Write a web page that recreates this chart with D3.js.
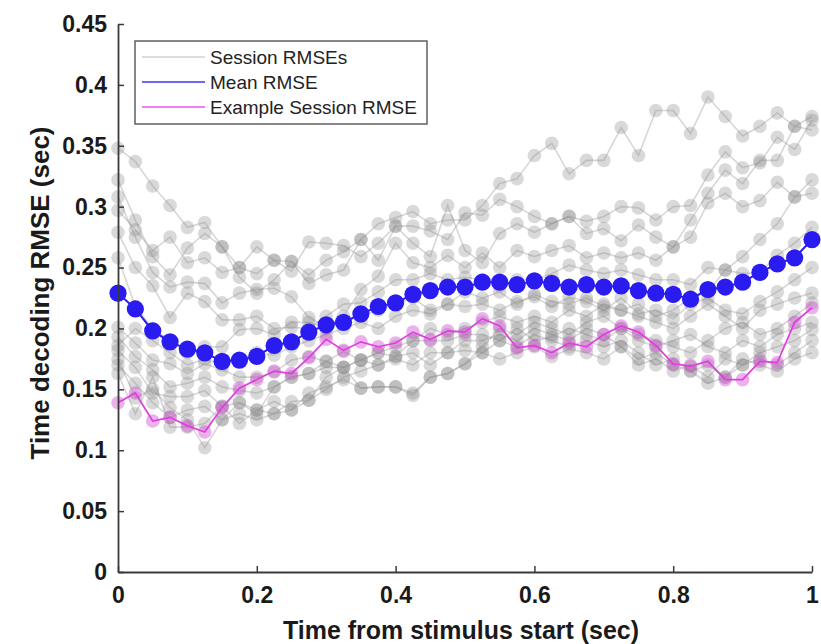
<!DOCTYPE html>
<html>
<head>
<meta charset="utf-8">
<script src="https://cdn.jsdelivr.net/npm/d3@7/dist/d3.min.js"></script>
<style>
  html, body { margin: 0; padding: 0; background: #fff; }
  svg { display: block; font-family: "Liberation Sans", Arial, sans-serif; }
</style>
</head>
<body>
<svg id="chart" width="821" height="644"></svg>
<script>
// ---------- data ----------
const timePoints = [0,0.025,0.05,0.075,0.1,0.125,0.15,0.175,0.2,0.225,0.25,0.275,0.3,0.325,0.35,0.375,0.4,0.425,0.45,0.475,0.5,0.525,0.55,0.575,0.6,0.625,0.65,0.675,0.7,0.725,0.75,0.775,0.8,0.825,0.85,0.875,0.9,0.925,0.95,0.975,1];

const meanRMSE = [0.229,0.216,0.198,0.189,0.183,0.180,0.173,0.174,0.177,0.186,0.189,0.197,0.203,0.205,0.212,0.218,0.221,0.228,0.231,0.234,0.234,0.238,0.238,0.236,0.239,0.237,0.234,0.236,0.234,0.235,0.231,0.229,0.228,0.224,0.232,0.234,0.238,0.246,0.253,0.258,0.273];

const exampleRMSE = [0.139,0.147,0.124,0.127,0.120,0.115,0.135,0.151,0.158,0.165,0.163,0.176,0.191,0.182,0.189,0.185,0.188,0.197,0.191,0.198,0.197,0.208,0.202,0.184,0.186,0.180,0.188,0.185,0.195,0.202,0.197,0.186,0.171,0.169,0.173,0.158,0.158,0.173,0.172,0.205,0.217];

const session01 = [0.297,0.281,0.264,0.275,0.254,0.258,0.246,0.250,0.245,0.256,0.255,0.244,0.256,0.263,0.273,0.286,0.291,0.296,0.286,0.289,0.289,0.301,0.319,0.323,0.342,0.352,0.327,0.338,0.338,0.365,0.342,0.379,0.379,0.360,0.390,0.374,0.358,0.366,0.377,0.366,0.374];
const session02 = [0.348,0.337,0.317,0.301,0.283,0.287,0.267,0.250,0.267,0.256,0.247,0.271,0.270,0.268,0.259,0.270,0.284,0.284,0.280,0.273,0.295,0.293,0.306,0.300,0.292,0.286,0.292,0.288,0.292,0.300,0.299,0.289,0.300,0.301,0.326,0.345,0.332,0.336,0.357,0.347,0.371];
const session03 = [0.322,0.289,0.259,0.244,0.266,0.278,0.267,0.242,0.229,0.240,0.255,0.237,0.244,0.248,0.273,0.256,0.284,0.270,0.259,0.301,0.264,0.254,0.278,0.286,0.279,0.286,0.292,0.278,0.282,0.272,0.285,0.275,0.267,0.289,0.311,0.330,0.319,0.338,0.338,0.366,0.363];
const session04 = [0.308,0.275,0.246,0.234,0.238,0.237,0.221,0.229,0.232,0.233,0.226,0.209,0.201,0.210,0.232,0.243,0.270,0.254,0.250,0.260,0.250,0.262,0.250,0.264,0.259,0.264,0.268,0.258,0.262,0.258,0.262,0.256,0.267,0.275,0.303,0.311,0.300,0.305,0.320,0.308,0.322];
const session05 = [0.279,0.250,0.235,0.209,0.229,0.222,0.207,0.207,0.210,0.200,0.201,0.200,0.210,0.220,0.221,0.230,0.240,0.240,0.245,0.240,0.242,0.240,0.235,0.240,0.240,0.245,0.252,0.248,0.245,0.248,0.244,0.240,0.240,0.236,0.250,0.248,0.259,0.273,0.286,0.308,0.311];
const session06 = [0.258,0.218,0.200,0.190,0.180,0.185,0.185,0.199,0.200,0.195,0.205,0.205,0.200,0.205,0.210,0.215,0.220,0.225,0.215,0.220,0.230,0.225,0.230,0.220,0.228,0.222,0.220,0.225,0.218,0.215,0.220,0.210,0.215,0.225,0.230,0.248,0.245,0.246,0.260,0.270,0.283];
const session07 = [0.201,0.188,0.174,0.171,0.163,0.171,0.166,0.160,0.160,0.164,0.174,0.177,0.173,0.181,0.174,0.180,0.177,0.190,0.200,0.195,0.200,0.205,0.210,0.205,0.210,0.205,0.215,0.210,0.220,0.215,0.210,0.205,0.200,0.210,0.220,0.210,0.200,0.215,0.220,0.225,0.229];
const session08 = [0.193,0.177,0.166,0.152,0.155,0.160,0.152,0.149,0.147,0.152,0.160,0.163,0.168,0.168,0.174,0.180,0.185,0.190,0.190,0.190,0.195,0.195,0.190,0.200,0.190,0.193,0.200,0.195,0.190,0.200,0.195,0.190,0.185,0.180,0.190,0.200,0.205,0.195,0.200,0.210,0.221];
const session09 = [0.182,0.168,0.147,0.144,0.144,0.149,0.136,0.139,0.133,0.130,0.133,0.147,0.152,0.158,0.151,0.152,0.152,0.147,0.160,0.163,0.171,0.180,0.175,0.180,0.185,0.177,0.183,0.180,0.175,0.185,0.170,0.175,0.165,0.170,0.160,0.175,0.170,0.180,0.185,0.190,0.199];
const session10 = [0.170,0.155,0.139,0.127,0.133,0.136,0.125,0.130,0.125,0.130,0.140,0.141,0.150,0.160,0.165,0.170,0.175,0.170,0.180,0.180,0.182,0.180,0.190,0.185,0.195,0.190,0.185,0.190,0.185,0.190,0.180,0.170,0.175,0.165,0.170,0.160,0.170,0.175,0.170,0.180,0.190];
const session11 = [0.163,0.130,0.160,0.119,0.119,0.122,0.136,0.122,0.133,0.140,0.133,0.141,0.160,0.168,0.174,0.170,0.177,0.180,0.170,0.180,0.190,0.190,0.195,0.190,0.200,0.195,0.190,0.200,0.195,0.185,0.175,0.180,0.170,0.165,0.155,0.160,0.175,0.170,0.165,0.175,0.180];
const session12 = [0.175,0.143,0.150,0.135,0.125,0.102,0.125,0.139,0.130,0.152,0.160,0.163,0.173,0.168,0.151,0.152,0.152,0.145,0.160,0.163,0.171,0.185,0.200,0.195,0.205,0.200,0.195,0.205,0.210,0.200,0.190,0.185,0.190,0.195,0.185,0.180,0.190,0.185,0.195,0.200,0.205];
const session13 = [0.186,0.200,0.190,0.180,0.170,0.175,0.170,0.175,0.180,0.178,0.185,0.190,0.195,0.200,0.205,0.200,0.210,0.215,0.212,0.220,0.218,0.220,0.215,0.222,0.226,0.218,0.226,0.222,0.215,0.225,0.212,0.215,0.208,0.220,0.225,0.215,0.212,0.222,0.230,0.240,0.250];

const sessions = [session01,session02,session03,session04,session05,session06,session07,session08,session09,session10,session11,session12,session13];

const xTickValues = [0,0.2,0.4,0.6,0.8,1];
const xTickLabels = ["0","0.2","0.4","0.6","0.8","1"];
const yTickValues = [0,0.05,0.1,0.15,0.2,0.25,0.3,0.35,0.4,0.45];
const yTickLabels = ["0","0.05","0.1","0.15","0.2","0.25","0.3","0.35","0.4","0.45"];
const legendLabels = ["Session RMSEs","Mean RMSE","Example Session RMSE"];

// ---------- drawing ----------
const svg = d3.select("#chart");
const x = d3.scaleLinear().domain([0,1]).range([118,812]);
const y = d3.scaleLinear().domain([0,0.45]).range([572,24]);

const line = d3.line().x((d,i)=>x(timePoints[i])).y(d=>y(d));

// gray sessions
const gSess = svg.append("g");
sessions.forEach(s => {
  gSess.append("path").attr("d", line(s))
    .attr("fill","none").attr("stroke","rgba(150,150,150,0.38)").attr("stroke-width",1.6);
});
sessions.forEach(s => {
  gSess.selectAll(null).data(s).enter().append("circle")
    .attr("cx",(d,i)=>x(timePoints[i])).attr("cy",d=>y(d)).attr("r",6.8)
    .attr("fill","rgba(140,140,140,0.33)");
});

// example session
svg.append("g").selectAll("circle").data(exampleRMSE).enter().append("circle")
  .attr("cx",(d,i)=>x(timePoints[i])).attr("cy",d=>y(d)).attr("r",6.8)
  .attr("fill","rgba(205,70,205,0.42)");
svg.append("path").attr("d", line(exampleRMSE))
  .attr("fill","none").attr("stroke","#e03ee0").attr("stroke-width",1.7);

// mean
svg.append("path").attr("d", line(meanRMSE))
  .attr("fill","none").attr("stroke","#2a1cf0").attr("stroke-width",2);
svg.append("g").selectAll("circle").data(meanRMSE).enter().append("circle")
  .attr("cx",(d,i)=>x(timePoints[i])).attr("cy",d=>y(d)).attr("r",8.6)
  .attr("fill","#2a1cf0");

// axes
const xAxis = d3.axisBottom(x).tickValues(xTickValues)
  .tickFormat((d,i)=>xTickLabels[i]).tickSizeInner(-6).tickSizeOuter(0).tickPadding(15);
const yAxis = d3.axisLeft(y).tickValues(yTickValues)
  .tickFormat((d,i)=>yTickLabels[i]).tickSizeInner(-6).tickSizeOuter(0).tickPadding(11);

const gx = svg.append("g").attr("transform","translate(0,572)").call(xAxis);
const gy = svg.append("g").attr("transform","translate(118,0)").call(yAxis);
[gx,gy].forEach(g=>{
  g.select(".domain").attr("stroke","#3a3a3a").attr("stroke-width",1.8);
  g.selectAll(".tick line").attr("stroke","#3a3a3a").attr("stroke-width",1.5);
  g.selectAll(".tick text").attr("fill","#1a1a1a").attr("font-size",23)
    .attr("font-weight","bold").attr("font-family","'Liberation Sans', Arial, sans-serif");
});

// axis titles
svg.append("text").attr("x",461).attr("y",639).attr("text-anchor","middle")
  .attr("font-size",25).attr("font-weight","bold").attr("fill","#1a1a1a")
  .attr("textLength",356).attr("lengthAdjust","spacingAndGlyphs")
  .text("Time from stimulus start (sec)");
svg.append("text").attr("transform","translate(49,293) rotate(-90)")
  .attr("text-anchor","middle").attr("font-size",26).attr("font-weight","bold").attr("fill","#1a1a1a")
  .attr("textLength",333).attr("lengthAdjust","spacingAndGlyphs")
  .text("Time decoding RMSE (sec)");

// legend
const lg = svg.append("g");
lg.append("rect").attr("x",135).attr("y",41).attr("width",292).attr("height",83)
  .attr("fill","#fff").attr("stroke","#555").attr("stroke-width",1.4);
const legColors = ["#d0d0d0","#3a36f2","#ee55ee"];
const legendRows = lg.selectAll("g.row").data(legendLabels).enter().append("g")
  .attr("transform",(d,i)=>`translate(0,${57+i*25})`);
legendRows.append("line").attr("x1",142).attr("x2",205).attr("y1",0).attr("y2",0)
  .attr("stroke",(d,i)=>legColors[i]).attr("stroke-width",1.6);
legendRows.append("text").attr("x",210).attr("y",7).attr("font-size",19)
  .attr("fill","#222").text(d=>d);
</script>
</body>
</html>
